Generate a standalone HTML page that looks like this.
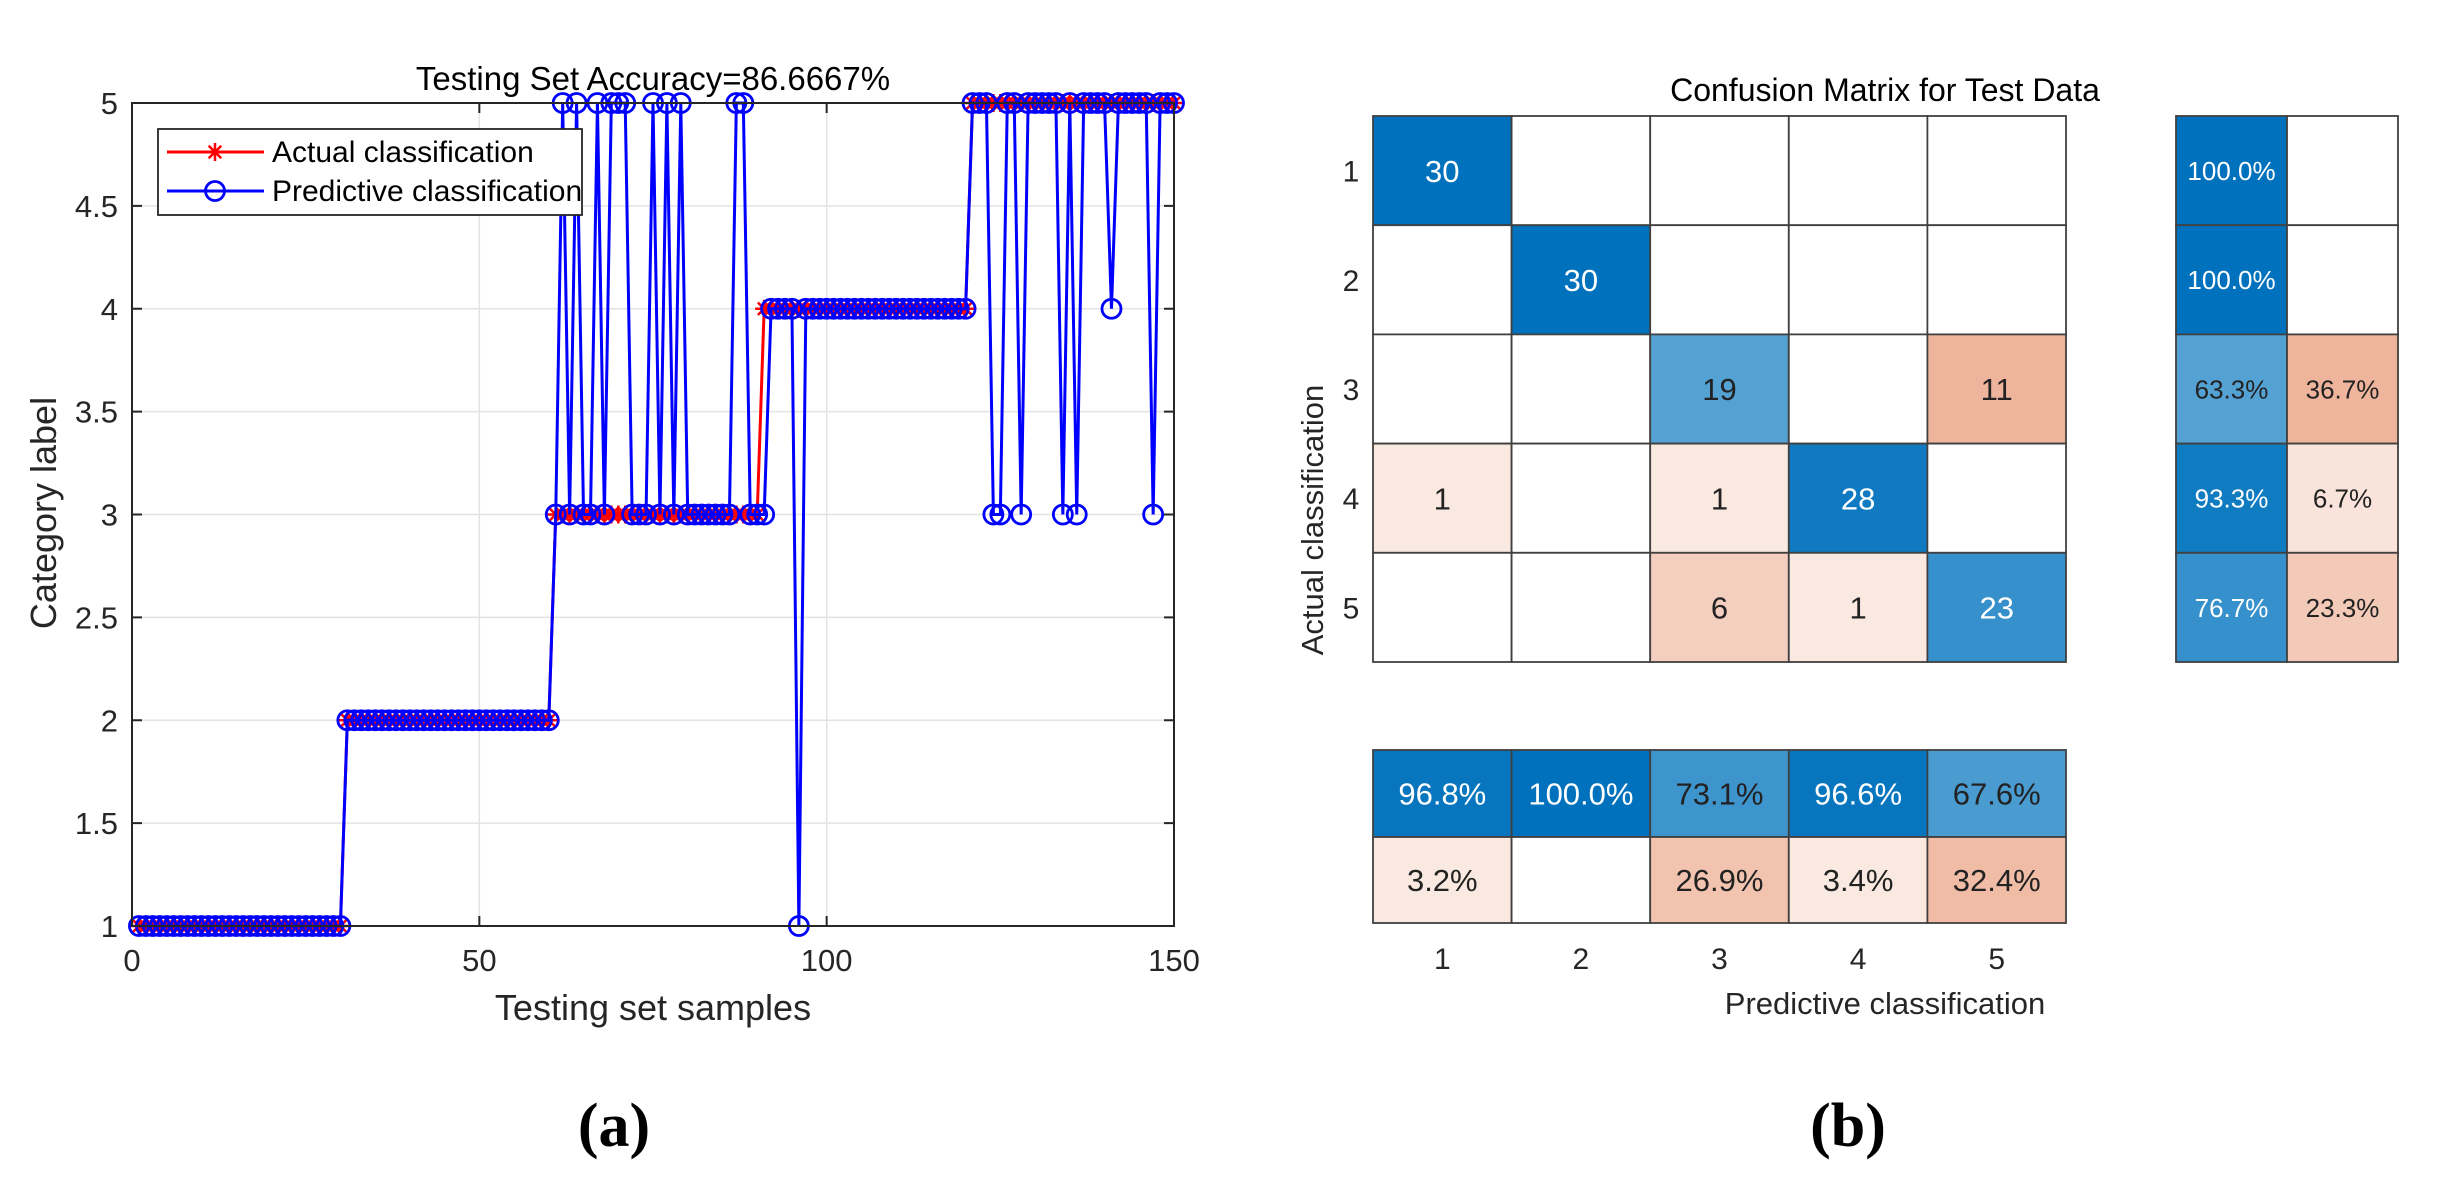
<!DOCTYPE html>
<html><head><meta charset="utf-8"><style>
html,body{margin:0;padding:0;background:#fff;}
svg{display:block;font-family:"Liberation Sans",Arial,sans-serif;}
</style></head><body>
<svg id="root" width="2457" height="1183" viewBox="0 0 2457 1183" xmlns="http://www.w3.org/2000/svg">
<rect width="2457" height="1183" fill="#fff"/>
<g id="lineChart"></g>
<g id="cmChart"></g>
<text x="614" y="1146" font-family="Liberation Serif,serif" font-weight="bold" font-size="62" text-anchor="middle" fill="#000">(a)</text>
<text x="1848" y="1146" font-family="Liberation Serif,serif" font-weight="bold" font-size="62" text-anchor="middle" fill="#000">(b)</text>
</svg>
<script>
// ---------- data: line chart ----------
const actualLabels = [1,1,1,1,1,1,1,1,1,1,1,1,1,1,1,1,1,1,1,1,1,1,1,1,1,1,1,1,1,1,
2,2,2,2,2,2,2,2,2,2,2,2,2,2,2,2,2,2,2,2,2,2,2,2,2,2,2,2,2,2,
3,3,3,3,3,3,3,3,3,3,3,3,3,3,3,3,3,3,3,3,3,3,3,3,3,3,3,3,3,3,
4,4,4,4,4,4,4,4,4,4,4,4,4,4,4,4,4,4,4,4,4,4,4,4,4,4,4,4,4,4,
5,5,5,5,5,5,5,5,5,5,5,5,5,5,5,5,5,5,5,5,5,5,5,5,5,5,5,5,5,5];
const predictedLabels = [1,1,1,1,1,1,1,1,1,1,1,1,1,1,1,1,1,1,1,1,1,1,1,1,1,1,1,1,1,1,
2,2,2,2,2,2,2,2,2,2,2,2,2,2,2,2,2,2,2,2,2,2,2,2,2,2,2,2,2,2,
3,5,3,5,3,3,5,3,5,5,5,3,3,3,5,3,5,3,5,3,3,3,3,3,3,3,5,5,3,3,
3,4,4,4,4,1,4,4,4,4,4,4,4,4,4,4,4,4,4,4,4,4,4,4,4,4,4,4,4,4,
5,5,5,3,3,5,5,3,5,5,5,5,5,3,5,3,5,5,5,5,4,5,5,5,5,5,3,5,5,5];
const xTicks = [0,50,100,150];
const yTicks = [1,1.5,2,2.5,3,3.5,4,4.5,5];
const yTickLabels = ["1","1.5","2","2.5","3","3.5","4","4.5","5"];
const legendLabels = ["Actual classification","Predictive classification"];

// ---------- data: confusion matrix ----------
const classNames = ["1","2","3","4","5"];
const cmCounts = [[30,0,0,0,0],[0,30,0,0,0],[0,0,19,0,11],[1,0,1,28,0],[0,0,6,1,23]];
const rowCorrectPct = [100.0,100.0,63.3,93.3,76.7];
const rowErrorPct = [0,0,36.7,6.7,23.3];
const colCorrectPct = [96.8,100.0,73.1,96.6,67.6];
const colErrorPct = [3.2,0,26.9,3.4,32.4];

const NS="http://www.w3.org/2000/svg";
function mk(parent,tag,attrs,text){const e=document.createElementNS(NS,tag);for(const k in attrs)e.setAttribute(k,attrs[k]);if(text!==undefined)e.textContent=text;parent.appendChild(e);return e;}

// ---------- line chart ----------
(function(){
const g=document.getElementById('lineChart');
const L=132,R=1174,T=103,B=926;
const xS=v=>L+(v-0)/(150-0)*(R-L);
const yS=v=>B-(v-1)/(5-1)*(B-T);
// grid
yTicks.forEach(v=>{const l=mk(g,'line',{x1:L,x2:R,y1:yS(v),y2:yS(v),stroke:'#e3e3e3','stroke-width':1.5});

});
xTicks.forEach(v=>{const l=mk(g,'line',{x1:xS(v),x2:xS(v),y1:T,y2:B,stroke:'#e3e3e3','stroke-width':1.5});

});
// actual series
const n=actualLabels.length;
let d='';actualLabels.forEach((v,i)=>{d+=(i?'L':'M')+xS(i+1).toFixed(2)+' '+yS(v).toFixed(2);});
const pa=mk(g,'path',{d:d,fill:'none',stroke:'#ff0000','stroke-width':3});


actualLabels.forEach((v,i)=>{const cx=xS(i+1),cy=yS(v),s=9;
const st=mk(g,'path',{d:`M${cx-s} ${cy}L${cx+s} ${cy}M${cx} ${cy-s}L${cx} ${cy+s}M${cx-s*0.7} ${cy-s*0.7}L${cx+s*0.7} ${cy+s*0.7}M${cx-s*0.7} ${cy+s*0.7}L${cx+s*0.7} ${cy-s*0.7}`,stroke:'#ff0000','stroke-width':2.5});

});
// predicted series
d='';predictedLabels.forEach((v,i)=>{d+=(i?'L':'M')+xS(i+1).toFixed(2)+' '+yS(v).toFixed(2);});
const pp=mk(g,'path',{d:d,fill:'none',stroke:'#0000ff','stroke-width':3});


predictedLabels.forEach((v,i)=>{const c=mk(g,'circle',{cx:xS(i+1),cy:yS(v),r:9.5,fill:'none',stroke:'#0000ff','stroke-width':2.8});

});
// box + ticks
const bx=mk(g,'rect',{x:L,y:T,width:R-L,height:B-T,fill:'none',stroke:'#262626','stroke-width':2});


yTicks.forEach((v,i)=>{
const t1=mk(g,'line',{x1:L,x2:L+10,y1:yS(v),y2:yS(v),stroke:'#262626','stroke-width':2});


const t2=mk(g,'line',{x1:R,x2:R-10,y1:yS(v),y2:yS(v),stroke:'#262626','stroke-width':2});


const tl=mk(g,'text',{x:L-14,y:yS(v)+11,'font-size':31,'text-anchor':'end',fill:'#262626'},yTickLabels[i]);

});
xTicks.forEach(v=>{
const t1=mk(g,'line',{x1:xS(v),x2:xS(v),y1:B,y2:B-10,stroke:'#262626','stroke-width':2});


const t2=mk(g,'line',{x1:xS(v),x2:xS(v),y1:T,y2:T+10,stroke:'#262626','stroke-width':2});


const tl=mk(g,'text',{x:xS(v),y:971,'font-size':31,'text-anchor':'middle',fill:'#262626'},String(v));

});
const tt=mk(g,'text',{x:(L+R)/2,y:90,'font-size':33,'text-anchor':'middle',fill:'#000'},'Testing Set Accuracy=86.6667%');


const xl=mk(g,'text',{x:(L+R)/2,y:1020,'font-size':36,'text-anchor':'middle',fill:'#262626'},'Testing set samples');


const yl=mk(g,'text',{x:0,y:0,'font-size':36,'text-anchor':'middle',fill:'#262626',transform:'translate(56,513) rotate(-90)'},'Category label');


// legend
const lg=mk(g,'g',{});


const lb=mk(lg,'rect',{x:158,y:129,width:424,height:86,fill:'#fff',stroke:'#262626','stroke-width':1.8});


[152,191].forEach((yy,k)=>{
const col=k===0?'#ff0000':'#0000ff';
const e=mk(lg,'g',{});


mk(e,'line',{x1:167,x2:264,y1:yy,y2:yy,stroke:col,'stroke-width':3});
if(k===0){const s=9,cx=215,cy=yy;mk(e,'path',{d:`M${cx-s} ${cy}L${cx+s} ${cy}M${cx} ${cy-s}L${cx} ${cy+s}M${cx-s*0.7} ${cy-s*0.7}L${cx+s*0.7} ${cy+s*0.7}M${cx-s*0.7} ${cy+s*0.7}L${cx+s*0.7} ${cy-s*0.7}`,stroke:col,'stroke-width':2.5});}
else mk(e,'circle',{cx:215,cy:yy,r:9.5,fill:'none',stroke:col,'stroke-width':2.8});
mk(e,'text',{x:272,y:yy+10,'font-size':30,fill:'#000'},legendLabels[k]);});
})();

// ---------- confusion matrix ----------
(function(){
const g=document.getElementById('cmChart');
const X0=1373,CW=138.6,Y0=116,RH=109.2;
const RX0=2176,RCW=111;
const BY=[750,837,923];
const blue=[0,114,189],red=[217,83,25];
function shade(frac,good){if(frac<=0)return null;const t=0.1+0.9*frac;const c=good?blue:red;
return {fill:`rgb(${Math.round(255-t*(255-c[0]))},${Math.round(255-t*(255-c[1]))},${Math.round(255-t*(255-c[2]))})`,light:!(good&&t>0.77)};}
function cell(x,y,w,h,fr,good,txt,fs,name){
const sh=shade(fr,good);
const r=mk(g,'rect',{x:x,y:y,width:w,height:h,fill:sh?sh.fill:'#fff',stroke:'#404040','stroke-width':1.8});


if(txt){const t=mk(g,'text',{x:x+w/2,y:y+h/2+fs*0.36,'font-size':fs,'text-anchor':'middle',fill:sh&&!sh.light?'#ffffff':'#222'},txt);

}}
const rowSum=cmCounts.map(r=>r.reduce((a,b)=>a+b,0));
cmCounts.forEach((row,i)=>row.forEach((v,j)=>{
cell(X0+j*CW,Y0+i*RH,CW,RH,v/rowSum[i],i===j,v?String(v):'',31,'matrix-cell');}));
rowCorrectPct.forEach((v,i)=>{
cell(RX0,Y0+i*RH,RCW,RH,v/100,true,v?v.toFixed(1)+'%':'',26,'row-summary-correct');
cell(RX0+RCW,Y0+i*RH,RCW,RH,rowErrorPct[i]/100,false,rowErrorPct[i]?rowErrorPct[i].toFixed(1)+'%':'',26,'row-summary-error');});
colCorrectPct.forEach((v,j)=>{
cell(X0+j*CW,BY[0],CW,BY[1]-BY[0],v/100,true,v?v.toFixed(1)+'%':'',31,'column-summary-correct');
cell(X0+j*CW,BY[1],CW,BY[2]-BY[1],colErrorPct[j]/100,false,colErrorPct[j]?colErrorPct[j].toFixed(1)+'%':'',31,'column-summary-error');});
classNames.forEach((c,i)=>{
const t=mk(g,'text',{x:1351,y:Y0+i*RH+RH/2+11,'font-size':30,'text-anchor':'middle',fill:'#262626'},c);


const u=mk(g,'text',{x:X0+i*CW+CW/2,y:969,'font-size':30,'text-anchor':'middle',fill:'#262626'},c);

});
const tt=mk(g,'text',{x:1885,y:101,'font-size':32,'text-anchor':'middle',fill:'#000'},'Confusion Matrix for Test Data');


const xl=mk(g,'text',{x:1885,y:1014,'font-size':31,'text-anchor':'middle',fill:'#262626'},'Predictive classification');


const yl=mk(g,'text',{x:0,y:0,'font-size':31,'text-anchor':'middle',fill:'#262626',transform:'translate(1323,520) rotate(-90)'},'Actual classification');


})();
</script>
</body></html>
